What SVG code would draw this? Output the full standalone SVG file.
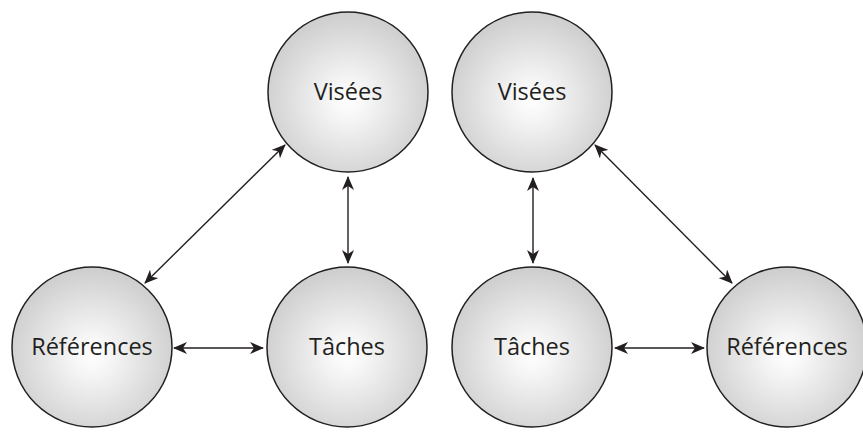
<svg xmlns="http://www.w3.org/2000/svg" width="863" height="440" viewBox="0 0 863 440">
<style>
.node{fill:url(#g);stroke:#231f20;stroke-width:1.5}
.lbl{font-family:"Open Sans","Liberation Sans",sans-serif;font-size:23.5px;fill:#231f20;text-anchor:middle}
.con{stroke:#231f20;stroke-width:1.4;fill:none;marker-start:url(#a);marker-end:url(#a)}
</style>
<defs>
<radialGradient id="g" cx="0.5" cy="0.55" r="0.55">
<stop offset="0" stop-color="#ffffff"/>
<stop offset="0.25" stop-color="#f4f4f4"/>
<stop offset="1" stop-color="#cdcdce"/>
</radialGradient>
<marker id="a" viewBox="0 0 14 12" refX="13" refY="6" markerWidth="14" markerHeight="12" markerUnits="userSpaceOnUse" orient="auto-start-reverse">
<path d="M0,0 L14,6 L0,12 L4,6 Z" fill="#231f20"/>
</marker>
</defs>
<g id="connectors">
<line class="con" x1="145" y1="283" x2="285" y2="145"/>
<line class="con" x1="348" y1="177" x2="348" y2="263"/>
<line class="con" x1="174" y1="348" x2="263" y2="348"/>
<line class="con" x1="533" y1="178" x2="533" y2="263"/>
<line class="con" x1="595" y1="145" x2="732" y2="283"/>
<line class="con" x1="615" y1="348" x2="704" y2="348"/>
</g>
<g id="visees-left"><circle class="node" cx="348" cy="92" r="80"/><text class="lbl" x="348" y="100">Visées</text></g>
<g id="references-left"><circle class="node" cx="92" cy="347" r="80"/><text class="lbl" x="92" y="355">Références</text></g>
<g id="taches-left"><circle class="node" cx="347" cy="347" r="80"/><text class="lbl" x="347" y="355">Tâches</text></g>
<g id="visees-right"><circle class="node" cx="532" cy="92" r="80"/><text class="lbl" x="532" y="100">Visées</text></g>
<g id="taches-right"><circle class="node" cx="532" cy="347" r="80"/><text class="lbl" x="532" y="355">Tâches</text></g>
<g id="references-right"><circle class="node" cx="787" cy="347" r="80"/><text class="lbl" x="787" y="355">Références</text></g>
</svg>
